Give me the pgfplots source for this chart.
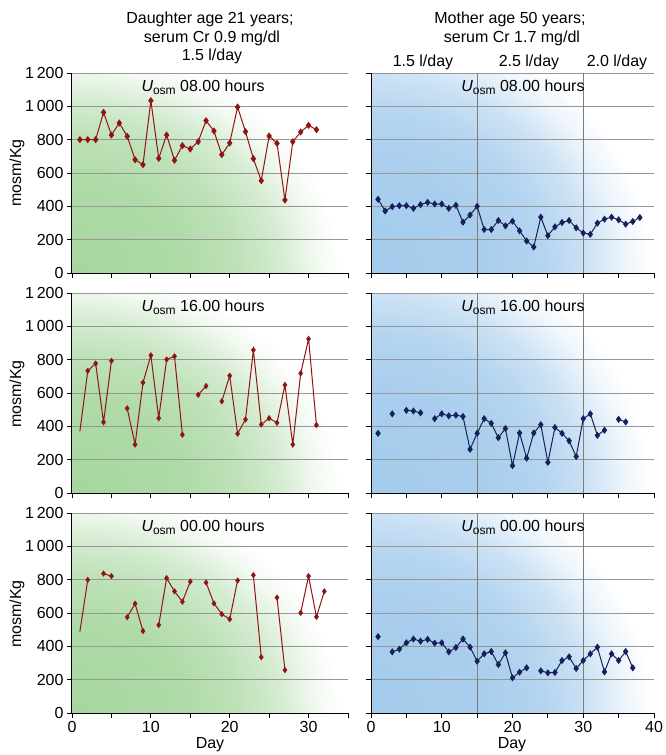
\documentclass[border=0pt]{standalone}
\usepackage{fontspec}
\setmainfont{Liberation Sans}
\usepackage{pgfplots}
\pgfplotsset{compat=1.18}
\definecolor{dred}{RGB}{145,20,20}
\definecolor{dblue}{RGB}{22,32,92}
\definecolor{gGreen}{RGB}{166,214,158}
\definecolor{gBlue}{RGB}{164,203,236}
\definecolor{gridgray}{RGB}{150,150,150}
\definecolor{vgray}{RGB}{125,125,125}
\pgfdeclareradialshading{greenrad}{\pgfpointorigin}{color(0bp)=(gGreen); color(10bp)=(gGreen!90!white); color(15bp)=(gGreen!72!white); color(18.75bp)=(gGreen!48!white); color(22bp)=(gGreen!15!white); color(24.25bp)=(white); color(50bp)=(white)}
\pgfdeclareradialshading{bluerad}{\pgfpointorigin}{color(0bp)=(gBlue); color(10bp)=(gBlue!94!white); color(15bp)=(gBlue!82!white); color(18.75bp)=(gBlue!55!white); color(22bp)=(gBlue!18!white); color(24.25bp)=(white); color(50bp)=(white)}
\newcommand\F{\fontsize{16}{19}\selectfont}
\newcommand\Fs{\fontsize{12}{14}\selectfont}
\newcommand\Uosm[1]{{\itshape U}\raisebox{-0.4ex}{\Fs osm} #1}
% background panels drawn before the axes, at the axes' known places
\newcommand\gbg[2]{\path[path picture={\shade[shading=greenrad] (path picture bounding box.south west) ellipse [x radius=270pt, y radius=230pt];}] (#1pt,-#2pt) rectangle ++(276pt,200pt);}
\newcommand\bbg[2]{\path[path picture={\shade[shading=bluerad] (path picture bounding box.south west) ellipse [x radius=290pt, y radius=265pt];}] (#1pt,-#2pt) rectangle ++(283pt,200pt);}
\pgfplotsset{
  panel/.style={
    scale only axis, height=200pt, anchor=south west,
    axis lines=left, axis line style={-, black, line width=1pt},
    ymin=0, ymax=1200, ytick={0,200,...,1200},
    ymajorgrids, grid style={gridgray, line width=0.9pt},
    tick align=outside, major tick length=5pt, minor tick length=5pt,
    tick style={black, line width=0.9pt},
    unbounded coords=jump,
    tick label style={font=\F},
    /pgf/number format/assume math mode=true,
    /pgf/number format/1000 sep={\,},
  },
  leftp/.style={panel, width=276pt, xmin=0, xmax=35, xtick={0,10,20,30}, minor xtick={5,15,25,35}},
  rightp/.style={panel, width=283pt, xmin=0, xmax=40, xtick={0,10,20,30,40}, minor xtick={5,15,25,35}, yticklabel={\mbox{}},
    extra x ticks={15,30}, extra x tick labels={}, extra x tick style={grid=major, major grid style={vgray, line width=0.8pt}, major tick length=0pt, xticklabel={\mbox{}}}},
  dline/.style={dred, line width=1pt},
  dser/.style={dred, line width=1pt, mark=diamond*, mark size=2.8pt, mark options={solid, fill=dred}},
  dmark/.style={dred, only marks, mark=diamond*, mark size=2.8pt, mark options={solid, fill=dred}},
  mser/.style={dblue, line width=1pt, mark=diamond*, mark size=2.8pt, mark options={solid, fill=dblue}},
}
\pgfplotstableread{
x y
1 800
2 800
3 800
4 964
5 828
6 900
7 820
8 680
9 650
10 1034
11 688
12 828
13 676
14 764
15 744
16 788
17 914
18 852
19 710
20 780
21 996
22 848
23 686
24 554
25 822
26 778
27 438
28 788
29 846
30 886
31 860
}\dA
\pgfplotstableread{
x y
1 370
2 733
3 777
4 425
5 793
6 nan
7 508
8 291
9 662
10 826
11 449
12 801
13 820
14 350
15 nan
16 589
17 642
18 nan
19 550
20 704
21 356
22 441
23 858
24 411
25 449
26 421
27 648
28 291
29 718
30 925
31 407
}\dB
\pgfplotstableread{
x y
1 488
2 799
3 nan
4 837
5 821
6 nan
7 575
8 656
9 492
10 nan
11 528
12 809
13 730
14 668
15 789
16 nan
17 783
18 658
19 593
20 563
21 795
22 nan
23 827
24 335
25 nan
26 692
27 258
28 nan
29 601
30 821
31 577
32 730
}\dC
\pgfplotstableread{
x y
1 442
2 372
3 398
4 404
5 404
6 388
7 410
8 424
9 414
10 414
11 388
12 406
13 305
14 348
15 400
16 261
17 261
18 315
19 283
20 311
21 253
22 192
23 156
24 335
25 224
26 277
27 303
28 315
29 271
30 240
31 232
32 299
33 323
34 335
35 319
36 293
37 309
38 333
}\mA
\pgfplotstableread{
x y
1 358
2 nan
3 475
4 nan
5 496
6 492
7 481
8 nan
9 446
10 475
11 463
12 467
13 459
14 262
15 358
16 446
17 418
18 332
19 387
20 164
21 360
22 209
23 360
24 410
25 184
26 393
27 358
28 313
29 219
30 446
31 475
32 346
33 377
34 nan
35 442
36 426
}\mB
\pgfplotstableread{
x y
1 458
2 nan
3 367
4 383
5 421
6 444
7 431
8 442
9 419
10 421
11 367
12 393
13 444
14 395
15 311
16 355
17 369
18 291
19 361
20 211
21 245
22 271
23 nan
24 253
25 241
26 243
27 315
28 337
29 267
30 315
31 355
32 395
33 247
34 355
35 315
36 369
37 271
}\mC
\begin{document}
\begin{tikzpicture}[font=\F]
\useasboundingbox (0,0) rectangle (665pt,-755pt);
% backgrounds
\gbg{72}{273}\bbg{371}{273}
\gbg{72}{493}\bbg{371}{493}
\gbg{72}{713}\bbg{371}{713}
% headers
\node at (210pt,-19pt) {Daughter age 21 years;};
\node at (212pt,-38pt) {serum Cr 0.9 mg/dl};
\node at (212pt,-56pt) {1.5 l/day};
\node at (510pt,-19pt) {Mother age 50 years;};
\node at (512pt,-38pt) {serum Cr 1.7 mg/dl};
\node at (423pt,-62pt) {1.5 l/day};
\node at (529pt,-62pt) {2.5 l/day};
\node at (617pt,-62pt) {2.0 l/day};
% y labels and x labels
\node[rotate=90] at (17pt,-173pt) {mosm/Kg};
\node[rotate=90] at (17pt,-394pt) {mosm/Kg};
\node[rotate=90] at (17pt,-614pt) {mosm/Kg};
\node at (210pt,-745pt) {Day};
\node at (512pt,-745pt) {Day};
% row 1
\begin{axis}[leftp, at={(72pt,-273pt)}, xticklabel={\mbox{}}]
\addplot[dser] table {\dA};
\node at (rel axis cs:0.475,0.93) {\Uosm{08.00 hours}};
\end{axis}
\begin{axis}[rightp, at={(371pt,-273pt)}, xticklabel={\mbox{}}]
\addplot[mser] table {\mA};
\node at (rel axis cs:0.537,0.93) {\Uosm{08.00 hours}};
\end{axis}
% row 2
\begin{axis}[leftp, at={(72pt,-493pt)}, xticklabel={\mbox{}}]
\addplot[dline] table {\dB};
\addplot[dmark, skip coords between index={0}{1}] table {\dB};
\node at (rel axis cs:0.475,0.93) {\Uosm{16.00 hours}};
\end{axis}
\begin{axis}[rightp, at={(371pt,-493pt)}, xticklabel={\mbox{}}]
\addplot[mser] table {\mB};
\node at (rel axis cs:0.537,0.93) {\Uosm{16.00 hours}};
\end{axis}
% row 3
\begin{axis}[leftp, at={(72pt,-713pt)}]
\addplot[dline] table {\dC};
\addplot[dmark, skip coords between index={0}{1}] table {\dC};
\node at (rel axis cs:0.475,0.93) {\Uosm{00.00 hours}};
\end{axis}
\begin{axis}[rightp, at={(371pt,-713pt)}]
\addplot[mser] table {\mC};
\node at (rel axis cs:0.537,0.93) {\Uosm{00.00 hours}};
\end{axis}
\end{tikzpicture}
\end{document}
